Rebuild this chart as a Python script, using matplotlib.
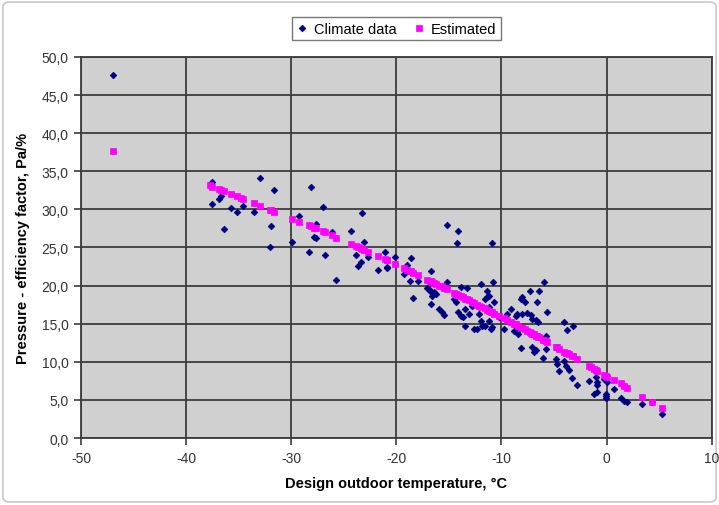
import matplotlib
matplotlib.use("Agg")
import matplotlib.pyplot as plt
from matplotlib.patches import FancyBboxPatch
from matplotlib.ticker import FuncFormatter, MultipleLocator

plt.rcParams['font.family'] = ['Liberation Sans', 'DejaVu Sans']
plt.rcParams['axes.unicode_minus'] = False

# ---- Climate data (design outdoor temperature, pressure-efficiency factor) ----
clim_x = [-47.0, -37.5, -33.0, -31.6, -36.7, -36.9, -37.5, -35.7, -35.2, -34.6,
          -33.5, -36.4, -31.9, -32.0, -29.9, -29.3, -28.1, -28.3, -27.8, -27.0,
          -23.3, -27.6, -24.3, -26.1, -27.6, -23.1, -26.8, -23.8, -23.4, -23.6,
          -22.7, -21.1, -21.7, -20.85, -20.1, -18.6, -18.95, -19.3, -18.7, -17.9,
          -18.4, -25.7, -20.9,
          -15.15, -14.1, -14.2, -10.9, -16.7, -17.05, -16.8, -16.4, -16.6, -16.2,
          -15.2, -15.4, -16.7, -15.9, -15.7, -15.5, -14.5, -14.3, -14.1, -13.8,
          -13.5, -12.6, -13.1, -11.9, -10.8, -11.35, -11.2, -11.6, -10.7, -12.3,
          -11.9, -11.6, -11.2, -11.0, -9.8, -10.2, -9.45, -9.07, -8.6, -8.1,
          -8.0, -8.5, -8.1, -13.5, -12.8, -13.3, -13.8, -11.4, -12.1, -11.2,
          -13.7, -11.8, -10.9, -16.9,
          -5.94, -7.3, -6.4, -8.0, -7.8, -6.6, -8.5, -7.6, -7.2, -7.07,
          -6.7, -6.5, -5.65, -4.04, -3.75, -3.18, -8.8, -8.4, -5.75, -7.07,
          -6.9, -6.7, -5.75, -6.03, -4.8, -4.7, -4.5, -4.04, -3.85, -3.56,
          -3.28, -2.8, -1.66, -1.0, -0.9, -1.2, -0.05, -0.24, -0.9, 0.05,
          -0.9, -0.05, -0.05, 0.7, 1.4, 1.7, 1.95, 3.4, 4.3, 5.3]
clim_y = [47.6, 33.6, 34.1, 32.5, 31.8, 31.4, 30.7, 30.2, 29.7, 30.5,
          29.7, 27.4, 27.8, 25.1, 25.7, 29.1, 32.9, 24.4, 26.4, 30.3,
          29.5, 28.1, 27.2, 27.0, 26.25, 25.7, 24.0, 24.0, 23.1, 22.6,
          23.75, 24.4, 22.05, 22.3, 23.75, 23.6, 22.7, 21.5, 20.6, 20.6,
          18.4, 20.7, 22.4,
          28.0, 27.2, 25.6, 25.6, 21.9, 19.7, 19.3, 19.2, 18.6, 18.9,
          20.5, 20.1, 17.6, 16.9, 16.5, 16.1, 18.2, 17.85, 16.5, 16.0,
          14.7, 14.3, 16.3, 20.2, 20.5, 19.3, 18.6, 18.2, 17.85, 14.3,
          15.35, 14.7, 15.35, 14.3, 14.3, 15.9, 16.3, 16.9, 16.0, 18.2,
          16.3, 13.9, 11.8, 16.9, 17.3, 19.7, 19.8, 18.5, 16.3, 17.2,
          15.9, 14.7, 14.6, 19.55,
          20.5, 19.3, 19.3, 18.5, 17.85, 17.85, 16.3, 16.4, 16.1, 15.6,
          15.5, 15.2, 16.5, 15.2, 14.2, 14.7, 14.0, 13.7, 13.4, 11.9,
          11.3, 11.5, 11.7, 10.5, 10.4, 9.7, 8.8, 10.1, 9.45, 8.9,
          7.9, 6.95, 7.5, 8.0, 6.95, 5.8, 5.8, 7.75, 7.35, 7.35,
          6.0, 5.5, 5.25, 6.4, 5.25, 4.86, 4.7, 4.5, 4.7, 3.15]

# ---- Estimated values (fitted curve) ----
est_x = [-47.0, -37.7, -37.5, -36.9, -36.7, -36.4, -35.7, -35.2, -34.8, -34.6,
         -33.5, -33.0, -32.0, -31.9, -31.6, -29.9, -29.3, -28.3, -28.1, -27.8,
         -27.6, -27.0, -26.8, -26.1, -25.7, -24.3, -23.8, -23.6, -23.4, -23.3,
         -23.1, -22.7, -21.7, -21.1, -20.9, -20.85, -20.1, -19.3, -18.95, -18.7,
         -18.6, -18.4, -17.9, -17.05, -16.8, -16.7, -16.6, -16.4, -16.2, -15.9,
         -15.7, -15.5, -15.4, -15.2, -14.5, -14.3, -14.2, -14.1, -13.8, -13.7,
         -13.5, -13.3, -13.1, -12.8, -12.6, -12.3, -12.1, -11.9, -11.6, -11.4,
         -11.2, -11.0, -10.9, -10.7, -10.2, -9.8, -9.45, -9.1, -8.8, -8.6,
         -8.4, -8.1, -8.0, -7.8, -7.6, -7.3, -7.2, -7.07, -6.9, -6.7,
         -6.6, -6.5, -6.4, -6.0, -5.9, -5.75, -5.65, -4.8, -4.7, -4.5,
         -4.0, -3.85, -3.75, -3.56, -3.3, -3.2, -2.8, -1.66, -1.47, -1.2,
         -1.0, -0.9, -0.24, -0.05, 0.05, 0.7, 1.4, 1.7, 1.95, 3.4,
         4.3, 5.3]
est_y = [37.7, 33.2, 33.0, 32.7, 32.6, 32.4, 32.0, 31.7, 31.5, 31.4,
         30.8, 30.5, 29.9, 29.9, 29.7, 28.8, 28.4, 27.9, 27.8, 27.6,
         27.5, 27.1, 27.0, 26.6, 26.3, 25.5, 25.2, 25.0, 24.9, 24.8,
         24.7, 24.4, 23.9, 23.5, 23.3, 23.3, 22.8, 22.3, 22.1, 21.9,
         21.9, 21.7, 21.4, 20.8, 20.6, 20.6, 20.5, 20.3, 20.2, 20.0,
         19.9, 19.7, 19.7, 19.5, 19.0, 18.9, 18.8, 18.8, 18.6, 18.5,
         18.3, 18.2, 18.1, 17.9, 17.7, 17.5, 17.3, 17.2, 17.0, 16.8,
         16.7, 16.5, 16.5, 16.3, 16.0, 15.7, 15.5, 15.2, 15.0, 14.9,
         14.7, 14.5, 14.4, 14.3, 14.1, 13.9, 13.8, 13.7, 13.6, 13.4,
         13.4, 13.3, 13.2, 12.9, 12.8, 12.7, 12.6, 12.0, 11.9, 11.7,
         11.3, 11.2, 11.1, 11.0, 10.8, 10.7, 10.4, 9.5, 9.35, 9.1,
         8.9, 8.85, 8.3, 8.15, 8.05, 7.6, 7.2, 6.8, 6.6, 5.4,
         4.7, 3.9]

fig = plt.figure(figsize=(7.19, 5.06), dpi=100)
fig.patches.append(FancyBboxPatch((0.004, 0.006), 0.992, 0.988,
                                  boxstyle='round,pad=0,rounding_size=0.01',
                                  transform=fig.transFigure, facecolor='white',
                                  edgecolor='#c8c8c8', linewidth=1.2, zorder=-10))

ax = fig.add_axes([0.1127, 0.1324, 0.877, 0.753])
ax.set_facecolor('#d0d0d0')

ax.plot(clim_x, clim_y, linestyle='none', marker='D', markersize=3.4,
        markeredgewidth=0.5, color='#000080', label='Climate data', zorder=3)
ax.plot(est_x, est_y, linestyle='none', marker='s', markersize=3.8,
        markeredgewidth=0.5, color='#ff00ff', label='Estimated', zorder=4)

ax.set_xlim(-50, 10)
ax.set_ylim(0, 50)
ax.xaxis.set_major_locator(MultipleLocator(10))
ax.yaxis.set_major_locator(MultipleLocator(5))
ax.yaxis.set_major_formatter(FuncFormatter(lambda v, p: f'{v:.1f}'.replace('.', ',')))
ax.xaxis.set_major_formatter(FuncFormatter(lambda v, p: f'{v:.0f}'))

ax.grid(True, color='#3c3c3c', linewidth=1.3, zorder=1)
ax.set_axisbelow(True)
for s in ax.spines.values():
    s.set_color('#3c3c3c')
    s.set_linewidth(1.3)
ax.tick_params(direction='out', length=5, width=1.2, color='#3c3c3c',
               labelsize=10, labelcolor='#333333', pad=4)

ax.set_xlabel('Design outdoor temperature, \u00b0C', fontsize=10.5,
              fontweight='bold', labelpad=8)
ax.set_ylabel('Pressure - efficiency factor, Pa/%', fontsize=10.5,
              fontweight='bold', labelpad=8)

leg = ax.legend(loc='lower center', bbox_to_anchor=(0.5, 1.025), ncol=2,
                frameon=True, fancybox=False, fontsize=10.5, handlelength=0.8,
                handletextpad=0.4, columnspacing=1.2, borderpad=0.3,
                markerscale=1.0)
leg.get_frame().set_edgecolor('#555555')
leg.get_frame().set_linewidth(1.0)

fig.savefig('out.png', dpi=100)
